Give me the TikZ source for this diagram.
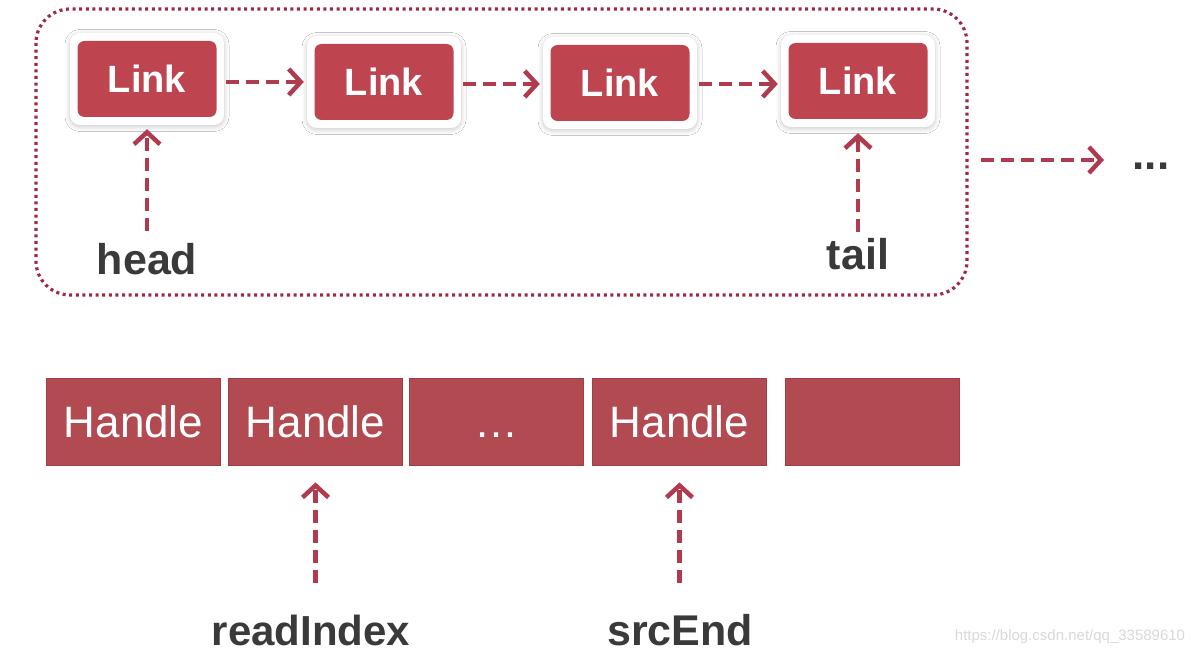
\documentclass[tikz,border=0pt]{standalone}
\usepackage{fontspec}
\setmainfont{Liberation Sans}
\usetikzlibrary{arrows.meta,shadows.blur}
\definecolor{linkred}{RGB}{190,68,80}
\definecolor{handlered}{RGB}{178,74,82}
\definecolor{handleedge}{RGB}{160,62,72}
\definecolor{arrowred}{RGB}{176,58,78}
\definecolor{dotred}{RGB}{158,42,70}
\definecolor{labelgray}{RGB}{58,58,58}
\begin{document}
\begin{tikzpicture}[x=1pt,y=-1pt,
  frame/.style={fill=white, rounded corners=10pt, minimum width=154pt, minimum height=92pt, inner sep=0pt,
    blur shadow={shadow blur steps=8, shadow xshift=0pt, shadow yshift=-1.5pt, shadow blur radius=5pt, shadow opacity=22}},
  linkbox/.style={fill=linkred, rounded corners=7pt, minimum width=139pt, minimum height=76pt, inner sep=0pt,
    text=white, font=\fontsize{38}{44}\selectfont\bfseries},
  handlebox/.style={fill=handlered, draw=handleedge, line width=0.8pt, minimum width=174pt, minimum height=87pt, inner sep=0pt,
    text=white, font=\fontsize{44}{50}\selectfont, text height=32pt, text depth=0pt},
  lbl/.style={text=labelgray, font=\fontsize{43}{50}\selectfont\bfseries, inner sep=0pt, text height=31pt, text depth=0pt, anchor=base},
  arr/.style={draw=arrowred, line width=4.5pt, dash pattern=on 13pt off 7pt, -{Straight Barb[length=12pt,width=26pt,line width=4.5pt]}},
  container/.style={draw=dotred, line width=3.2pt, dash pattern=on 3pt off 3.6pt, rounded corners=34pt}
]
\useasboundingbox (0,0) rectangle (1191,660);
\fill[white] (0,0) rectangle (1191,660);

% container
\draw[container] (36,9) rectangle (967,295);

% Link frames and boxes
\node[frame] (F1) at (147,79) {};
\node[frame] (F2) at (384,82) {};
\node[frame] (F3) at (620,83) {};
\node[frame] (F4) at (858,81) {};
\node[linkbox] (L1) at (F1) {Link};
\node[linkbox] (L2) at (F2) {Link};
\node[linkbox] (L3) at (F3) {Link};
\node[linkbox] (L4) at (F4) {Link};

\draw[arr, shorten <=2pt, shorten >=3pt] (F1.east |- 0,82) -- (F2.west);
\draw[arr, shorten <=2pt, shorten >=3pt] (F2.east |- 0,84) -- (F3.west |- 0,84);
\draw[arr, shorten <=2pt, shorten >=3pt] (F3.east |- 0,84) -- (F4.west |- 0,84);

% head / tail
\node[lbl] (head) at (147,275) {head};
\node[lbl] (tail) at (858,270) {tail};
\draw[arr, shorten <=13pt, shorten >=4pt] (head.north) -- (F1.south);
\draw[arr, shorten <=7pt, shorten >=6pt] (tail.north) -- (F4.south);

% right continuation
\coordinate (rs) at (981,160);
\coordinate (re) at (1104,160);
\draw[arr] (rs) -- (re);
\node[text=labelgray, font=\fontsize{44}{50}\selectfont\bfseries, inner sep=0pt, anchor=base] (dots) at (1151,170) {...};

% Handles
\node[handlebox] (H1) at (133.5,421.5) {Handle};
\node[handlebox] (H2) at (315.5,421.5) {Handle};
\node[handlebox] (H3) at (496.5,421.5) {…};
\node[handlebox] (H4) at (679.5,421.5) {Handle};
\node[handlebox] (H5) at (872.5,421.5) {};

% readIndex / srcEnd
\node[lbl, font=\fontsize{42}{50}\selectfont\bfseries] (ri) at (311,645) {readIndex};
\node[lbl] (se) at (680,645) {srcEnd};
\draw[arr, shorten <=31pt, shorten >=17pt] (ri.north -| H2.south) -- (H2.south);
\draw[arr, shorten <=31pt, shorten >=17pt] (se.north -| H4.south) -- (H4.south);

% watermark
\node[text=gray!30, font=\fontsize{15}{18}\selectfont, inner sep=0pt] (wm) at (1070,637) {https://blog.csdn.net/qq\_33589610};
\end{tikzpicture}
\end{document}
